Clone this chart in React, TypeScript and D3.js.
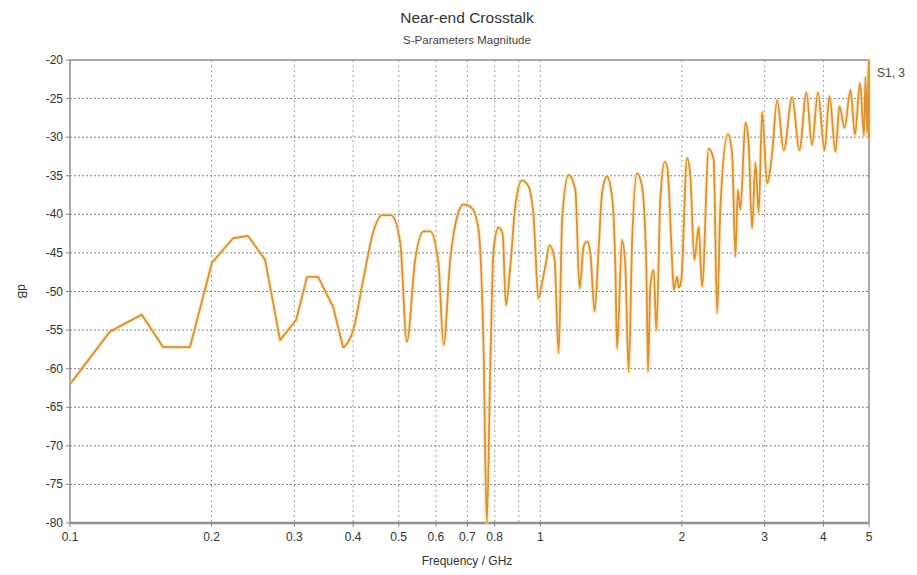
import React from "react";
import * as d3 from "d3";

const freqGHz = [
  0.1, 0.1216, 0.1421, 0.1577, 0.18, 0.2003, 0.2222, 0.2392, 0.26, 0.2797,
  0.3026, 0.3193, 0.337, 0.3627, 0.381, 0.4002, 0.4202, 0.4414, 0.4612, 0.4819,
  0.5036, 0.5204, 0.542, 0.5645, 0.5834, 0.6075, 0.6227, 0.6434, 0.6649, 0.6867,
  0.7157, 0.7392, 0.7576, 0.7696, 0.7829, 0.7956, 0.8154, 0.8315, 0.8453, 0.8634,
  0.8847, 0.9143, 0.9443, 0.9676, 0.9917, 1.0083, 1.0247, 1.0467, 1.0725, 1.0938,
  1.1138, 1.1487, 1.1871, 1.2123, 1.2363, 1.2572, 1.2777, 1.3048, 1.3305, 1.3531,
  1.3866, 1.4211, 1.4442, 1.4563, 1.4923, 1.5168, 1.5415, 1.5673, 1.606, 1.6459,
  1.6808, 1.6948, 1.714, 1.7423, 1.7654, 1.8003, 1.8388, 1.8631, 1.9065, 1.9215,
  1.9541, 1.9713, 1.9953, 2.0517, 2.085, 2.1267, 2.1717, 2.208, 2.2808, 2.3371,
  2.3767, 2.4155, 2.5055, 2.5579, 2.5995, 2.6315, 2.6638, 2.7301, 2.7707, 2.821,
  2.8668, 2.9141, 2.9629, 3.0361, 3.1117, 3.1888, 3.294, 3.432, 3.5563, 3.6813,
  3.7821, 3.8947, 4.0212, 4.1205, 4.2436, 4.3275, 4.4346, 4.5673, 4.6684, 4.7845,
  4.8792, 4.915, 4.956, 4.995, 5.0,
];

const magnitudeDb = [
  -62.0, -55.2, -53.0, -57.2, -57.2, -46.3, -43.1, -42.8, -45.9, -56.3,
  -53.7, -48.1, -48.1, -52.0, -57.3, -55.0, -48.5, -42.3, -40.1, -40.1,
  -43.6, -56.5, -45.9, -42.2, -42.2, -46.4, -56.9, -45.9, -40.4, -38.7,
  -39.2, -42.0, -57.6, -80.0, -59.7, -44.6, -41.7, -42.5, -51.8, -46.8,
  -39.0, -35.6, -36.4, -40.3, -50.9, -48.9, -46.8, -44.0, -45.9, -58.0,
  -40.3, -34.9, -36.8, -49.6, -44.2, -43.5, -45.0, -52.6, -44.6, -37.3,
  -35.1, -37.7, -46.8, -57.4, -43.3, -46.8, -60.4, -43.8, -34.7, -36.4,
  -46.8, -60.4, -49.4, -47.2, -55.0, -38.1, -33.2, -34.0, -45.9, -49.8,
  -48.1, -49.5, -48.4, -32.7, -35.1, -45.9, -41.6, -49.4, -31.5, -32.9,
  -52.8, -39.0, -29.6, -32.1, -45.5, -36.8, -39.4, -28.1, -30.4, -41.8,
  -33.3, -39.8, -26.7, -36.0, -32.1, -25.2, -31.7, -24.8, -31.7, -24.2,
  -31.0, -24.2, -31.7, -24.7, -31.9, -26.0, -28.8, -23.9, -29.7, -23.0,
  -29.8, -22.2, -29.5, -20.0, -30.0,
];

// The coarse low-frequency part is drawn with straight segments; the dense part is smooth.
const coarseUpToGHz = 0.381;

const xTickValues = [0.1, 0.2, 0.3, 0.4, 0.5, 0.6, 0.7, 0.8, 1, 2, 3, 4, 5];
const xTickLabels = ["0.1", "0.2", "0.3", "0.4", "0.5", "0.6", "0.7", "0.8", "1", "2", "3", "4", "5"];
const xGridValues = [0.1, 0.2, 0.3, 0.4, 0.5, 0.6, 0.7, 0.8, 0.9, 1, 2, 3, 4, 5];
const yTickValues = [-20, -25, -30, -35, -40, -45, -50, -55, -60, -65, -70, -75, -80];

const title = "Near-end Crosstalk";
const subtitle = "S-Parameters Magnitude";
const xLabel = "Frequency / GHz";
const yLabel = "dB";
const seriesName = "S1, 3";

const W = 917;
const H = 575;
const left = 70;
const right = 869;
const top = 60;
const bottom = 523;

export default function App() {
  const x = d3.scaleLog().domain([0.1, 5]).range([left, right]);
  const y = d3.scaleLinear().domain([-80, -20]).range([bottom, top]);
  const pts: [number, number][] = freqGHz.map((f, i) => [f, magnitudeDb[i]]);
  const coarse = pts.filter((d) => d[0] <= coarseUpToGHz);
  const dense = pts.filter((d) => d[0] >= coarseUpToGHz);
  const linear = d3
    .line<[number, number]>()
    .x((d) => x(d[0]))
    .y((d) => y(Math.max(-80, d[1])));
  const smooth = d3
    .line<[number, number]>()
    .x((d) => x(d[0]))
    .y((d) => y(Math.max(-80, d[1])))
    .curve(d3.curveMonotoneX);
  const path = (linear(coarse) || "") + " " + (smooth(dense) || "");
  const font = "'Liberation Sans', Arial, Helvetica, sans-serif";

  return (
    <svg
      width={W}
      height={H}
      style={{ position: "absolute", left: 0, top: 0, background: "#fff" }}
      fontFamily={font}
    >
      <rect x={0} y={0} width={W} height={H} fill="#fff" />
      <text x={467} y={23} textAnchor="middle" fontSize={15.5} fill="#333">
        {title}
      </text>
      <text x={467} y={44} textAnchor="middle" fontSize={11.5} fill="#444">
        {subtitle}
      </text>

      {yTickValues.map((v) => (
        <line
          key={"hg" + v}
          x1={left}
          x2={right}
          y1={y(v)}
          y2={y(v)}
          stroke="#6f6f6f"
          strokeWidth={1}
          strokeDasharray="2,2"
          opacity={v === -20 || v === -80 ? 0 : 0.85}
        />
      ))}
      {xGridValues.map((v) => (
        <line
          key={"vg" + v}
          x1={x(v)}
          x2={x(v)}
          y1={top}
          y2={bottom}
          stroke="#8a8a8a"
          strokeWidth={1}
          strokeDasharray="2,3"
          opacity={v === 0.1 || v === 5 ? 0 : 0.8}
        />
      ))}

      <line x1={left} x2={right} y1={top} y2={top} stroke="#8c8c8c" strokeWidth={1.5} />
      <line x1={left} x2={right} y1={bottom} y2={bottom} stroke="#909090" strokeWidth={2.5} />
      <line x1={left} x2={left} y1={top} y2={bottom} stroke="#8c8c8c" strokeWidth={1.5} />
      <line x1={right} x2={right} y1={top} y2={bottom} stroke="#8c8c8c" strokeWidth={1.5} />

      {yTickValues.map((v) => (
        <g key={"yt" + v}>
          <line x1={left - 4} x2={left} y1={y(v)} y2={y(v)} stroke="#888" />
          <text x={left - 7} y={y(v) + 4} textAnchor="end" fontSize={12} fill="#333">
            {String(v)}
          </text>
        </g>
      ))}
      {xTickValues.map((v, i) => (
        <g key={"xt" + v}>
          <line x1={x(v)} x2={x(v)} y1={bottom} y2={bottom + 4} stroke="#888" />
          <text x={x(v)} y={bottom + 18} textAnchor="middle" fontSize={12} fill="#333">
            {xTickLabels[i]}
          </text>
        </g>
      ))}

      <text x={467} y={565} textAnchor="middle" fontSize={12} fill="#333">
        {xLabel}
      </text>
      <text
        transform={`translate(18, ${(top + bottom) / 2}) rotate(90)`}
        textAnchor="middle"
        fontSize={12}
        fill="#333"
      >
        {yLabel}
      </text>

      <path d={path} fill="none" stroke="#f6dca6" strokeWidth={4} strokeOpacity={0.6} strokeLinejoin="round" />
      <path d={path} fill="none" stroke="#dc9230" strokeWidth={1.8} strokeLinejoin="round" />

      <text x={877} y={77} fontSize={12} fill="#444">
        {seriesName}
      </text>
    </svg>
  );
}
